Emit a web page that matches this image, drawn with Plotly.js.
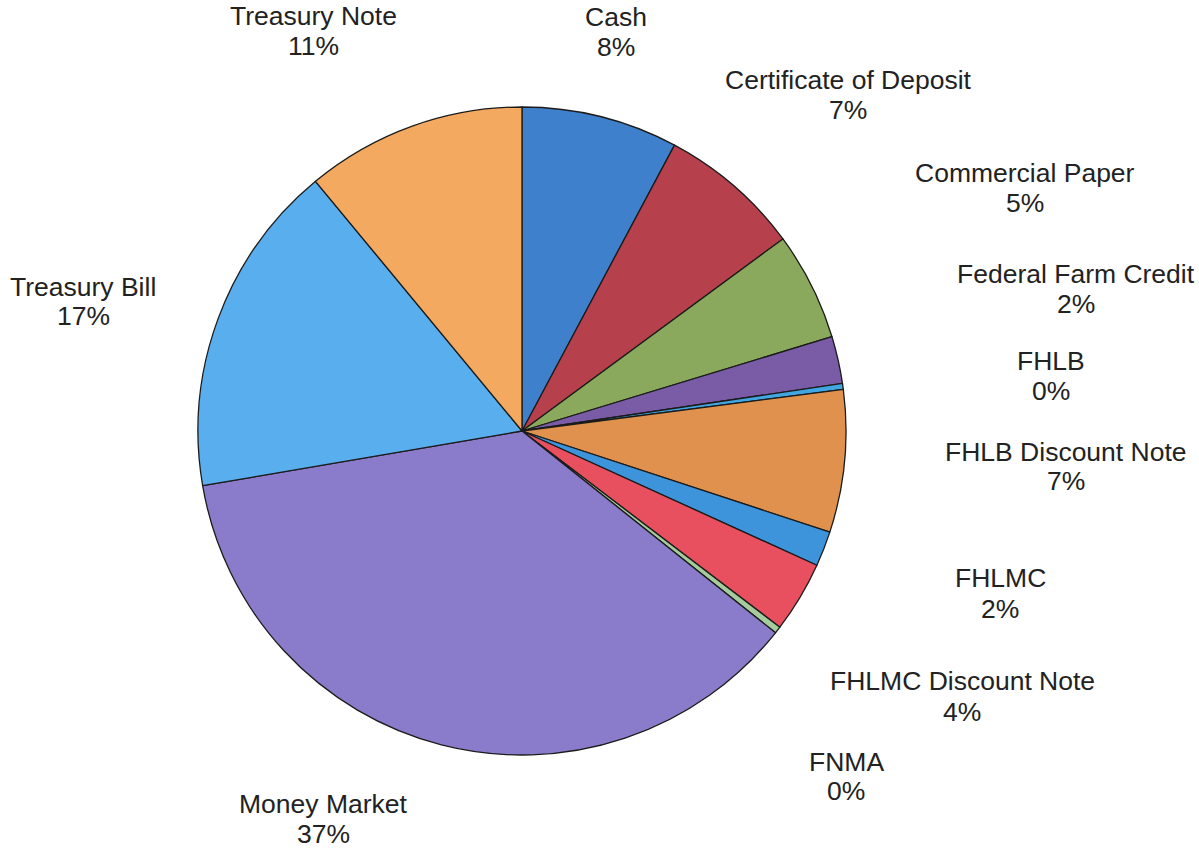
<!DOCTYPE html>
<html>
<head>
<meta charset="utf-8">
<script src="https://cdn.plot.ly/plotly-3.0.1.min.js"></script>
<style>html,body{margin:0;padding:0;background:#fff;}#chart{width:1199px;height:850px;}</style>
</head>
<body>
<div id="chart"></div>
<script>
// Data (percent of portfolio)
var categories = ["Cash", "Certificate of Deposit", "Commercial Paper", "Federal Farm Credit", "FHLB",
  "FHLB Discount Note", "FHLMC", "FHLMC Discount Note", "FNMA", "Money Market", "Treasury Bill", "Treasury Note"];
var values = [7.8, 7.1, 5.4, 2.35, 0.3, 7.1, 1.75, 3.55, 0.35, 36.6, 16.7, 11.0];

// Styles
var colors = ["#3f80cc", "#b6404c", "#8aa95c", "#7a5ca6", "#42a6e0", "#df914d",
  "#3d94db", "#e9505f", "#a4cc9c", "#8a7bcb", "#59aeed", "#f4a961"];
// Label positions in pixels: [centre x, name line y, percent line y]
var labelPos = [
  [616, 17, 47], [848, 80, 110], [1025, 173, 203], [1076, 274, 304], [1051, 361, 391],
  [1066, 452, 481], [1000, 578, 609], [962, 681, 712], [846, 762, 791], [323, 804, 834],
  [83, 287, 316], [314, 16, 46]
];

var W = 1199, H = 850;
var cx = 522, cy = 431, r = 324;
var total = values.reduce(function(a, b){ return a + b; }, 0);

var annotations = [];
categories.forEach(function(c, i){
  var p = labelPos[i];
  var pct = Math.round(values[i] / total * 100) + "%";
  [[c, p[1]], [pct, p[2]]].forEach(function(t){
    annotations.push({
      text: t[0], x: p[0] / W, y: 1 - t[1] / H, xref: "paper", yref: "paper",
      xanchor: "center", yanchor: "middle", showarrow: false,
      font: {family: "Liberation Sans, Arial, sans-serif", size: 26.5, color: "#222"}
    });
  });
});

var trace = {
  type: "pie",
  labels: categories,
  values: values,
  sort: false,
  direction: "clockwise",
  rotation: 0,
  textinfo: "none",
  hoverinfo: "label+percent",
  marker: {colors: colors, line: {color: "#1b1b1b", width: 1.3}},
  domain: {x: [(cx - r) / W, (cx + r) / W], y: [1 - (cy + r) / H, 1 - (cy - r) / H]}
};

var layout = {
  width: W, height: H,
  margin: {l: 0, r: 0, t: 0, b: 0},
  showlegend: false,
  paper_bgcolor: "#ffffff",
  annotations: annotations
};

Plotly.newPlot("chart", [trace], layout, {displayModeBar: false, staticPlot: true});
</script>
</body>
</html>
